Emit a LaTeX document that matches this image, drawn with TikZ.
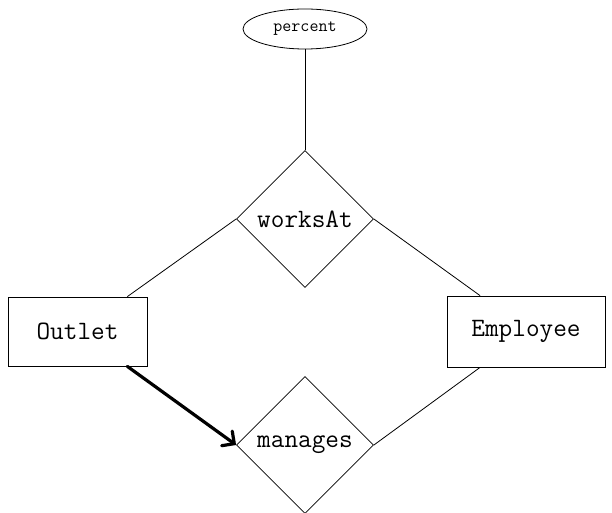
\documentclass[tikz,border=0pt]{standalone}
\usepackage{fontspec}
\usetikzlibrary{shapes.geometric,arrows.meta}
\begin{document}
\begin{tikzpicture}[x=1pt,y=-1pt,
  thinline/.style={line width=0.8pt,draw=black},
  entity/.style={rectangle,thinline,inner sep=0pt,font=\ttfamily\fontsize{26.5}{30}\selectfont},
  relation/.style={diamond,thinline,aspect=1,inner sep=0pt,minimum width=137pt,minimum height=137pt,font=\ttfamily\fontsize{26.5}{30}\selectfont},
  attribute/.style={ellipse,thinline,inner sep=0pt,minimum width=124pt,minimum height=40pt,font=\ttfamily\fontsize{17.5}{20}\selectfont},
  link/.style={line width=0.8pt},
  strong/.style={line width=3.2pt,line cap=round,-{Straight Barb[length=9pt,width=18pt,line cap=round]}}]
\useasboundingbox (0,0) rectangle (612,513);
\node[attribute] (percent) at (305,29) {percent};
\node[relation] (worksAt) at (305,219) {worksAt};
\node[relation] (manages) at (305,445) {manages};
\node[entity,minimum width=139pt,minimum height=69pt] (outlet) at (77.5,331.5) {Outlet};
\node[entity,minimum width=158pt,minimum height=71pt] (employee) at (526,331.5) {Employee};
\draw[link] (percent.south) -- (worksAt.north);
\draw[link] (outlet.35) -- (worksAt.west);
\draw[link] (employee.142) -- (worksAt.east);
\draw[link] (employee.218) -- (manages.east);
\draw[strong] (outlet.-35) -- (manages.west);
\end{tikzpicture}
\end{document}
